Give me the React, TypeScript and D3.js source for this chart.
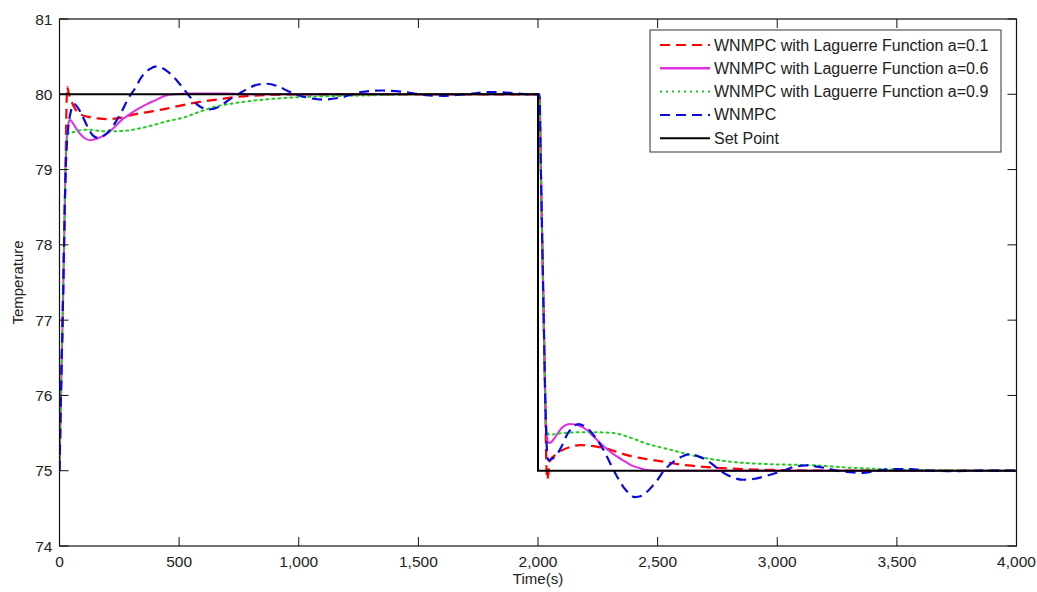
import React from "react";
import * as d3 from "d3";

type Pt = [number, number];

const xTicks = [0, 500, 1000, 1500, 2000, 2500, 3000, 3500, 4000];
const yTicks = [74, 75, 76, 77, 78, 79, 80, 81];

const seriesNames = [
  "WNMPC with Laguerre Function a=0.1",
  "WNMPC with Laguerre Function a=0.6",
  "WNMPC with Laguerre Function a=0.9",
  "WNMPC",
  "Set Point",
];

const laguerre01: Pt[] = [
  [0, 75], [6, 76], [13, 77], [19, 78], [25, 79], [29, 79.8], [32, 80.1], [36, 80.05], [45, 79.95],
  [65, 79.81], [90, 79.73], [120, 79.7], [160, 79.68], [204, 79.67], [260, 79.69], [308, 79.73],
  [380, 79.77], [448, 79.81], [520, 79.86], [587, 79.9], [660, 79.93], [726, 79.96], [800, 79.98],
  [866, 79.99], [1000, 80.0], [2000, 80.0], [2006, 80], [2012, 79], [2018, 78], [2024, 77], [2030, 76],
  [2034, 75.2], [2038, 74.88], [2044, 74.98], [2050, 75.14], [2078, 75.22], [2106, 75.28], [2140, 75.32],
  [2175, 75.34], [2210, 75.335], [2245, 75.32], [2290, 75.29], [2329, 75.25], [2380, 75.2], [2426, 75.17],
  [2524, 75.12], [2600, 75.08], [2663, 75.06], [2740, 75.04], [2803, 75.03], [2900, 75.015], [3000, 75.01],
  [3200, 75.0], [4000, 75.0],
];

const laguerre06: Pt[] = [
  [0, 75], [6, 76], [13, 77], [19, 78], [25, 79], [32, 79.5], [38, 79.62], [44, 79.66], [55, 79.62],
  [79, 79.5], [100, 79.43], [127, 79.39], [155, 79.41], [190, 79.46], [225, 79.55], [260, 79.66],
  [295, 79.74], [330, 79.81], [365, 79.87], [400, 79.92], [442, 79.98], [480, 80.0], [550, 80.01],
  [700, 80.01], [800, 80.0], [2000, 80.0], [2006, 80], [2012, 79], [2018, 78], [2024, 77], [2030, 76],
  [2036, 75.5], [2043, 75.37], [2050, 75.37], [2070, 75.44], [2100, 75.57], [2134, 75.62], [2170, 75.6],
  [2204, 75.54], [2230, 75.46], [2259, 75.37], [2295, 75.27], [2329, 75.19], [2365, 75.12], [2398, 75.06],
  [2430, 75.03], [2454, 75.01], [2500, 75.0], [4000, 75.0],
];

const laguerre09: Pt[] = [
  [0, 75], [6, 76], [13, 77], [19, 78], [25, 79], [31, 79.4], [37, 79.48], [60, 79.5], [80, 79.52],
  [120, 79.53], [180, 79.51], [240, 79.51], [308, 79.53], [378, 79.58], [448, 79.64], [517, 79.69],
  [587, 79.77], [657, 79.84], [726, 79.88], [796, 79.91], [935, 79.95], [1075, 79.97], [1284, 79.985],
  [1500, 80.0], [2000, 80.0], [2006, 80], [2012, 79], [2018, 78], [2024, 77], [2029, 76.2], [2034, 75.6],
  [2040, 75.5], [2048, 75.48], [2080, 75.49], [2106, 75.5], [2175, 75.51], [2245, 75.51], [2315, 75.5],
  [2385, 75.44], [2454, 75.36], [2552, 75.28], [2663, 75.19], [2803, 75.12], [2942, 75.09], [3053, 75.08],
  [3166, 75.07], [3304, 75.04], [3450, 75.02], [3600, 75.01], [4000, 75.0],
];

const wnmpc: Pt[] = [
  [0, 75], [6, 76], [13, 77], [19, 78], [25, 78.9], [30, 79.3], [38, 79.6], [48, 79.78], [62, 79.87],
  [75, 79.83], [93, 79.73], [120, 79.55], [140, 79.45], [162, 79.42], [190, 79.46], [218, 79.55],
  [240, 79.66], [260, 79.77], [290, 79.96], [316, 80.08], [343, 80.23], [375, 80.33], [406, 80.37],
  [440, 80.33], [480, 80.22], [517, 80.08], [555, 79.93], [590, 79.83], [629, 79.8], [670, 79.84],
  [705, 79.92], [741, 79.99], [790, 80.08], [830, 80.13], [866, 80.14], [910, 80.11], [950, 80.05],
  [977, 80.01], [1030, 79.96], [1102, 79.93], [1180, 79.96], [1260, 80.03], [1350, 80.05], [1440, 80.03],
  [1530, 79.99], [1600, 79.98], [1700, 80.0], [1800, 80.03], [1880, 80.02], [1960, 80.0], [2000, 80.0],
  [2006, 80], [2012, 79], [2018, 78], [2024, 77], [2030, 76], [2036, 75.35], [2043, 75.14], [2055, 75.15],
  [2078, 75.21], [2100, 75.33], [2120, 75.47], [2145, 75.58], [2168, 75.62], [2195, 75.59], [2217, 75.53],
  [2245, 75.42], [2273, 75.28], [2300, 75.11], [2329, 74.93], [2365, 74.75], [2405, 74.65], [2435, 74.67],
  [2468, 74.76], [2500, 74.88], [2524, 74.99], [2555, 75.09], [2580, 75.15], [2610, 75.2], [2635, 75.22],
  [2670, 75.19], [2705, 75.14], [2735, 75.07], [2761, 75.0], [2800, 74.93], [2858, 74.88], [2900, 74.89],
  [2942, 74.92], [2985, 74.96], [3025, 75.0], [3067, 75.05], [3123, 75.07], [3193, 75.04], [3250, 75.0],
  [3304, 74.98], [3360, 74.97], [3415, 75.0], [3480, 75.02], [3555, 75.02], [3640, 75.0], [3722, 74.995],
  [3850, 75.0], [4000, 75.0],
];

const setPoint: Pt[] = [
  [0, 80], [2000, 80], [2000, 75], [4000, 75],
];

const W = 1037;
const H = 592;
const M = { left: 59.5, right: 1016.5, top: 19, bottom: 546 };

const styles = [
  { color: "#ff0000", dash: "10,6", width: 2.2 },
  { color: "#e030e0", dash: "", width: 2 },
  { color: "#22cc22", dash: "2,4", width: 2 },
  { color: "#0a0ae0", dash: "10,6", width: 2.2 },
  { color: "#000000", dash: "", width: 2 },
];

export default function App() {
  const x = d3.scaleLinear().domain([0, 4000]).range([M.left, M.right]);
  const y = d3.scaleLinear().domain([74, 81]).range([M.bottom, M.top]);
  const smooth = d3
    .line<Pt>()
    .x((d) => x(d[0]))
    .y((d) => y(d[1]))
    .curve(d3.curveMonotoneX);
  const straight = d3
    .line<Pt>()
    .x((d) => x(d[0]))
    .y((d) => y(d[1]));
  const data = [laguerre01, laguerre06, laguerre09, wnmpc];
  const fmt = d3.format(",");
  const tickLen = 9;
  const font = "'Liberation Sans', Arial, sans-serif";

  const legX = 650;
  const legY = 30;
  const legW = 351;
  const legH = 122;
  const rowH = 23.3;

  return (
    <svg
      width={W}
      height={H}
      style={{ position: "absolute", left: 0, top: 0, background: "#fff" }}
      fontFamily={font}
    >
      <defs>
        <clipPath id="plotClip">
          <rect x={M.left} y={M.top} width={M.right - M.left} height={M.bottom - M.top} />
        </clipPath>
      </defs>
      <rect x={0} y={0} width={W} height={H} fill="#fff" />
      <g clipPath="url(#plotClip)">
        {data.map((d, i) => (
          <path
            key={i}
            d={smooth(d) || ""}
            fill="none"
            stroke={styles[i].color}
            strokeWidth={styles[i].width}
            strokeDasharray={styles[i].dash || undefined}
            strokeLinecap={i === 2 ? "round" : "butt"}
          />
        ))}
        <path d={straight(setPoint) || ""} fill="none" stroke="#000" strokeWidth={2} />
      </g>
      {/* axes box */}
      <rect
        x={M.left}
        y={M.top}
        width={M.right - M.left}
        height={M.bottom - M.top}
        fill="none"
        stroke="#111"
        strokeWidth={1.2}
      />
      {xTicks.map((t) => (
        <g key={"xt" + t}>
          <line x1={x(t)} x2={x(t)} y1={M.bottom} y2={M.bottom - tickLen} stroke="#111" />
          <line x1={x(t)} x2={x(t)} y1={M.top} y2={M.top + tickLen} stroke="#111" />
          <text x={x(t)} y={567} fontSize={15.5} textAnchor="middle" fill="#222">
            {fmt(t)}
          </text>
        </g>
      ))}
      {yTicks.map((t) => (
        <g key={"yt" + t}>
          <line x1={M.left} x2={M.left + tickLen} y1={y(t)} y2={y(t)} stroke="#111" />
          <line x1={M.right} x2={M.right - tickLen} y1={y(t)} y2={y(t)} stroke="#111" />
          <text x={M.left - 7} y={y(t) + 5.5} fontSize={15.5} textAnchor="end" fill="#222">
            {t}
          </text>
        </g>
      ))}
      <text x={538} y={584} fontSize={15} textAnchor="middle" fill="#222">
        Time(s)
      </text>
      <text
        transform={`translate(23, ${(M.top + M.bottom) / 2}) rotate(-90)`}
        fontSize={15}
        textAnchor="middle"
        fill="#222"
      >
        Temperature
      </text>
      {/* legend */}
      <rect x={legX} y={legY} width={legW} height={legH} fill="#fff" stroke="#333" strokeWidth={1} />
      {seriesNames.map((name, i) => {
        const cy = legY + 15 + i * rowH;
        return (
          <g key={"lg" + i}>
            <line
              x1={legX + 10}
              x2={legX + 60}
              y1={cy}
              y2={cy}
              stroke={styles[i].color}
              strokeWidth={i === 1 ? 2.5 : 2}
              strokeDasharray={styles[i].dash || undefined}
            />
            <text x={legX + 64} y={cy + 5.5} fontSize={16} fill="#222">
              {name}
            </text>
          </g>
        );
      })}
    </svg>
  );
}
